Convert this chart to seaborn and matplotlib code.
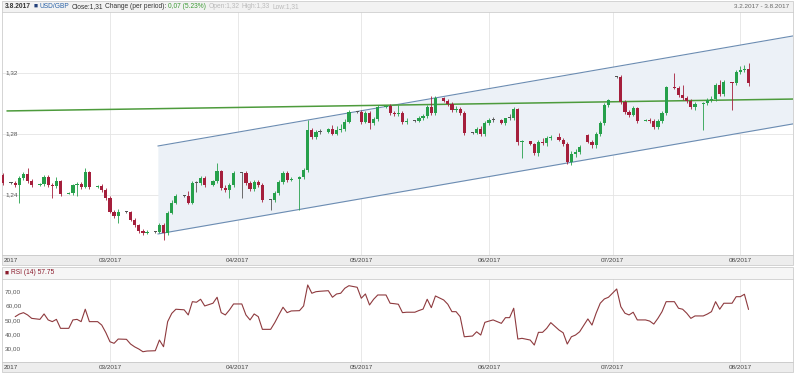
import matplotlib
matplotlib.use("Agg")
import matplotlib.pyplot as plt
import matplotlib.dates as mdates
import matplotlib.transforms as mtransforms
from matplotlib.patches import Rectangle
import numpy as np
import pandas as pd
import seaborn as sns

nan = float("nan")

# ---------------- DATA ----------------
# one candle per calendar day from 3.2.2017 to 3.8.2017, Saturdays have none
# rows: Fri 3.2, then weeks Sun..Fri
opens = [
    1.2531,
    1.2478, 1.2478, 1.2465, 1.2511, 1.2538, 1.2492,
    1.2465, 1.2472, 1.2518, 1.2465, 1.2459, 1.2492,
    1.2406, 1.2413, 1.2465, 1.2472, 1.2452, 1.2551,
    1.2452, 1.2459, 1.2433, 1.2380, 1.2288, 1.2262,
    1.2288, 1.2288, 1.2236, 1.2203, 1.2164, 1.2150,
    1.2157, 1.2157, 1.2203, 1.2150, 1.2282, 1.2347,
    1.2393, 1.2393, 1.2347, 1.2478, 1.2478, 1.2511,
    1.2465, 1.2492, 1.2557, 1.2446, 1.2433, 1.2465,
    1.2544, 1.2544, 1.2478, 1.2439, 1.2485, 1.2465,
    1.2367, 1.2367, 1.2413, 1.2485, 1.2544, 1.2498,
    1.2505, 1.2518, 1.2564, 1.2826, 1.2780, 1.2813,
    1.2813, 1.2833, 1.2800, 1.2826, 1.2833, 1.2879,
    1.2944, 1.2944, 1.2879, 1.2938, 1.2872, 1.2898,
    1.2977, 1.2984, 1.2938, 1.2931, 1.2938, 1.2879,
    1.2885, 1.2885, 1.2905, 1.2918, 1.2977, 1.2938,
    1.3036, 1.3016, 1.2997, 1.2957, 1.2964, 1.2938,
    1.2806, 1.2806, 1.2833, 1.2800, 1.2872, 1.2892,
    1.2892, 1.2872, 1.2905, 1.2905, 1.2964, 1.2747,
    1.2754, 1.2734, 1.2675, 1.2747, 1.2741, 1.2774,
    1.2780, 1.2760, 1.2734, 1.2616, 1.2669, 1.2682,
    1.2793, 1.2747, 1.2728, 1.2800, 1.2872, 1.2990,
    1.3174, 1.3174, 1.3010, 1.2944, 1.2924, 1.2970,
    1.2885, 1.2892, 1.2885, 1.2846, 1.2885, 1.2938,
    1.3108, 1.3102, 1.3056, 1.3036, 1.3016, 1.2977,
    1.2997, 1.3003, 1.3023, 1.3030, 1.3121, 1.3062,
    1.3141, 1.3134, 1.3207, 1.3220, 1.3226,
]

closes = [
    1.2478,
    1.2478, 1.2465, 1.2511, 1.2538, 1.2492, 1.2465,
    1.2472, 1.2518, 1.2465, 1.2459, 1.2492, 1.2406,
    1.2413, 1.2465, 1.2472, 1.2452, 1.2551, 1.2452,
    1.2459, 1.2433, 1.2380, 1.2288, 1.2262, 1.2288,
    1.2288, 1.2236, 1.2203, 1.2164, 1.2150, 1.2157,
    1.2157, 1.2203, 1.2150, 1.2282, 1.2347, 1.2393,
    1.2393, 1.2347, 1.2478, 1.2478, 1.2511, 1.2465,
    1.2492, 1.2557, 1.2446, 1.2433, 1.2465, 1.2544,
    1.2544, 1.2478, 1.2439, 1.2485, 1.2465, 1.2367,
    1.2367, 1.2413, 1.2485, 1.2544, 1.2498, 1.2505,
    1.2518, 1.2564, 1.2826, 1.2780, 1.2813, 1.2813,
    1.2833, 1.2800, 1.2826, 1.2833, 1.2879, 1.2944,
    1.2944, 1.2879, 1.2938, 1.2872, 1.2898, 1.2977,
    1.2984, 1.2938, 1.2931, 1.2938, 1.2879, 1.2885,
    1.2885, 1.2905, 1.2918, 1.2977, 1.2938, 1.3036,
    1.3016, 1.2997, 1.2957, 1.2964, 1.2938, 1.2806,
    1.2806, 1.2833, 1.2800, 1.2872, 1.2892, 1.2892,
    1.2872, 1.2905, 1.2905, 1.2964, 1.2747, 1.2754,
    1.2734, 1.2675, 1.2747, 1.2741, 1.2774, 1.2780,
    1.2760, 1.2734, 1.2616, 1.2669, 1.2682, 1.2715,
    1.2747, 1.2728, 1.2800, 1.2872, 1.2990, 1.3023,
    1.3174, 1.3010, 1.2944, 1.2924, 1.2970, 1.2885,
    1.2892, 1.2885, 1.2846, 1.2885, 1.2938, 1.3108,
    1.3102, 1.3056, 1.3036, 1.3016, 1.2977, 1.2997,
    1.3003, 1.3023, 1.3030, 1.3121, 1.3062, 1.3141,
    1.3134, 1.3207, 1.3220, 1.3226, 1.3134,
]

highs = [
    1.2544,
    1.2485, 1.2492, 1.2524, 1.2551, 1.2577, 1.2505,
    1.2478, 1.2531, 1.2531, 1.2478, 1.2518, 1.2498,
    1.2419, 1.2472, 1.2485, 1.2485, 1.2577, 1.2557,
    1.2465, 1.2472, 1.2446, 1.2393, 1.2301, 1.2308,
    1.2295, 1.2295, 1.2249, 1.2210, 1.2177, 1.2170,
    1.2164, 1.2216, 1.2216, 1.2295, 1.2367, 1.2406,
    1.2400, 1.2426, 1.2492, 1.2492, 1.2524, 1.2524,
    1.2498, 1.2610, 1.2564, 1.2465, 1.2478, 1.2557,
    1.2551, 1.2557, 1.2492, 1.2498, 1.2498, 1.2478,
    1.2374, 1.2426, 1.2498, 1.2557, 1.2557, 1.2518,
    1.2524, 1.2577, 1.2892, 1.2839, 1.2826, 1.2833,
    1.2839, 1.2859, 1.2852, 1.2865, 1.2898, 1.2957,
    1.2951, 1.2957, 1.2951, 1.2951, 1.2911, 1.2990,
    1.2990, 1.2997, 1.2951, 1.2990, 1.2951, 1.2905,
    1.2892, 1.2918, 1.2931, 1.2990, 1.3049, 1.3049,
    1.3043, 1.3030, 1.3010, 1.2984, 1.2977, 1.2951,
    1.2813, 1.2846, 1.2852, 1.2885, 1.2905, 1.2911,
    1.2898, 1.2905, 1.2931, 1.2977, 1.2970, 1.2760,
    1.2754, 1.2741, 1.2760, 1.2774, 1.2787, 1.2793,
    1.2806, 1.2774, 1.2747, 1.2688, 1.2702, 1.2728,
    1.2800, 1.2760, 1.2813, 1.2885, 1.3003, 1.3030,
    1.3180, 1.3187, 1.3023, 1.2957, 1.2984, 1.2977,
    1.2898, 1.2905, 1.2898, 1.2898, 1.2951, 1.3115,
    1.3200, 1.3115, 1.3121, 1.3049, 1.3030, 1.3010,
    1.3010, 1.3036, 1.3049, 1.3134, 1.3154, 1.3154,
    1.3141, 1.3220, 1.3246, 1.3252, 1.3266,
]

lows = [
    1.2465,
    1.2472, 1.2452, 1.2347, 1.2498, 1.2478, 1.2452,
    1.2459, 1.2459, 1.2452, 1.2380, 1.2446, 1.2393,
    1.2406, 1.2400, 1.2393, 1.2439, 1.2446, 1.2439,
    1.2446, 1.2419, 1.2367, 1.2282, 1.2249, 1.2216,
    1.2282, 1.2229, 1.2190, 1.2150, 1.2137, 1.2144,
    1.2150, 1.2150, 1.2104, 1.2137, 1.2275, 1.2341,
    1.2387, 1.2341, 1.2341, 1.2419, 1.2465, 1.2452,
    1.2459, 1.2478, 1.2433, 1.2419, 1.2380, 1.2452,
    1.2380, 1.2465, 1.2426, 1.2426, 1.2452, 1.2354,
    1.2301, 1.2354, 1.2400, 1.2472, 1.2485, 1.2492,
    1.2301, 1.2505, 1.2551, 1.2767, 1.2767, 1.2800,
    1.2806, 1.2793, 1.2793, 1.2813, 1.2820, 1.2872,
    1.2938, 1.2865, 1.2872, 1.2833, 1.2859, 1.2885,
    1.2970, 1.2924, 1.2918, 1.2918, 1.2865, 1.2865,
    1.2879, 1.2879, 1.2892, 1.2905, 1.2924, 1.2924,
    1.3010, 1.2984, 1.2944, 1.2944, 1.2924, 1.2793,
    1.2800, 1.2800, 1.2787, 1.2787, 1.2859, 1.2879,
    1.2865, 1.2859, 1.2892, 1.2892, 1.2728, 1.2642,
    1.2728, 1.2662, 1.2656, 1.2728, 1.2721, 1.2760,
    1.2754, 1.2721, 1.2603, 1.2597, 1.2649, 1.2669,
    1.2741, 1.2708, 1.2708, 1.2787, 1.2859, 1.2977,
    1.3167, 1.2997, 1.2931, 1.2911, 1.2918, 1.2872,
    1.2885, 1.2872, 1.2833, 1.2833, 1.2872, 1.2924,
    1.3095, 1.3043, 1.3023, 1.3003, 1.2964, 1.2957,
    1.2826, 1.2990, 1.3010, 1.3016, 1.3049, 1.3049,
    1.2957, 1.3121, 1.3193, 1.3207, 1.3115,
]

rsi = [
    nan,
    nan, 52.7, 54.5, 55.5, 53.9, 51.5,
    50.8, 54.6, 50.4, 49.2, 50.8, 44.5,
    44.5, 50.4, 50.8, 49.2, 57.9, 49.2,
    49.2, 46.8, 41.5, 35.1, 34.0, 37.0,
    36.8, 33.5, 31.5, 30.0, 28.1, 28.6,
    28.8, 36.3, 31.6, 49.2, 55.0, 57.9,
    57.5, 53.9, 63.2, 62.8, 64.9, 60.2,
    62.1, 66.3, 55.5, 53.9, 57.4, 61.6,
    61.6, 53.9, 50.4, 54.6, 52.7, 43.8,
    43.8, 48.5, 54.0, 59.3, 55.5, 56.7,
    56.9, 60.2, 74.9, 69.1, 70.2, 70.5,
    70.9, 66.3, 68.6, 69.1, 72.6, 74.4,
    73.3, 65.6, 68.6, 60.9, 64.9, 67.9,
    67.9, 62.1, 61.8, 61.4, 55.5, 55.8,
    55.8, 57.0, 58.0, 64.9, 59.0, 67.2,
    64.4, 61.4, 56.2, 56.2, 52.7, 38.6,
    39.1, 42.1, 39.8, 48.7, 49.6, 50.4,
    48.0, 52.0, 52.0, 58.6, 37.0, 37.5,
    36.3, 32.8, 41.7, 41.7, 44.5, 48.5,
    43.3, 41.4, 33.5, 38.6, 39.8, 42.1,
    51.1, 46.8, 55.1, 62.1, 65.1, 66.3,
    72.1, 59.7, 55.1, 53.9, 55.8, 50.4,
    50.4, 49.6, 47.5, 51.5, 56.2, 63.2,
    63.2, 58.6, 57.9, 55.1, 51.5, 53.2,
    53.2, 54.5, 56.2, 63.2, 57.9, 62.1,
    62.1, 66.7, 66.7, 68.4, 57.75,
]

month_ticks = ["2017-03-01", "2017-04-01", "2017-05-01", "2017-06-01", "2017-07-01", "2017-08-01"]
month_labels = ["03/2017", "04/2017", "05/2017", "06/2017", "07/2017", "08/2017"]
price_ticks = [1.24, 1.28, 1.32]
price_labels = ["1,24", "1,28", "1,32"]
rsi_ticks = [30, 40, 50, 60, 70]
rsi_labels = ["30,00", "40,00", "50,00", "60,00", "70,00"]

# drawn trend channel and horizontal trend line (value ends)
channel_x = ["2017-03-12 15:00", "2017-08-13 19:00"]
channel_upper = [1.2721, 1.3443]
channel_lower = [1.2144, 1.2866]
trend_x = ["2017-02-04 00:00", "2017-08-13 19:00"]
trend_y = [1.2951, 1.3029]

X_RANGE = ["2017-02-02 19:00", "2017-08-13 19:00"]

UP = "#26a04b"
DOWN = "#a51f3c"
FLAT = "#555555"
GRID = "#e4e4e4"
EDGE = "#cdcdcd"

W, H = 800, 374


# ---------------- HELPERS ----------------

def frac(x0, y0, x1, y1):
    return [x0 / W, 1 - y1 / H, (x1 - x0) / W, (y1 - y0) / H]


def strip(fig, x0, y0, x1, y1, face):
    # drawn under the axes (zorder -1) so texts placed later stay on top
    fig.patches.append(Rectangle((x0 / W, 1 - y1 / H), (x1 - x0) / W, (y1 - y0) / H,
                                 transform=fig.transFigure, facecolor=face,
                                 edgecolor=EDGE, linewidth=0.6, zorder=-1))


def chain_text(fig, parts, x_px, y_px, size=4.8):
    renderer = fig.canvas.get_renderer()
    x = x_px / W
    for txt, color, weight in parts:
        t = fig.text(x, 1 - y_px / H, txt, color=color, fontsize=size,
                     fontweight=weight, ha="left", va="center", zorder=5)
        x = t.get_window_extent(renderer).x1 / W + 2.2 / W


def style_axes(ax, xlim):
    ax.set_xlim(xlim)
    ax.set_xticks([])
    ax.set_yticks([])
    ax.set_xlabel("")
    ax.set_ylabel("")
    for s in ax.spines.values():
        s.set_color(EDGE)
        s.set_linewidth(0.6)


# ---------------- FIGURE ----------------

sns.set_theme(style="white")
plt.rcParams["font.family"] = ["Liberation Sans", "DejaVu Sans"]

dates = pd.date_range("2017-02-03", "2017-08-03", freq="D")
dates = dates[dates.dayofweek != 5]

df = pd.DataFrame({"date": dates, "open": opens, "close": closes,
                   "high": highs, "low": lows, "rsi": rsi})

xlim = mdates.date2num(pd.to_datetime(X_RANGE))

fig = plt.figure(figsize=(W / 100, H / 100), dpi=100)
fig.patch.set_facecolor("white")

# strips around the two panels
strip(fig, 2, 1, 793, 12, "#f2f2f2")
strip(fig, 2, 255, 793, 265, "#ededed")
strip(fig, 2, 267, 793, 279, "#f6f6f6")
strip(fig, 2, 362, 793, 372, "#ededed")

# ---------------- PRICE PANEL ----------------
ax = fig.add_axes(frac(2, 12, 793, 255))

for m in month_ticks:
    ax.axvline(pd.Timestamp(m), color=GRID, lw=0.6, zorder=0)
for p in price_ticks:
    ax.axhline(p, color=GRID, lw=0.6, zorder=0)

cx = pd.to_datetime(channel_x)
ax.fill_between(cx, channel_lower, channel_upper, color="#ecf1f7", zorder=0.5, lw=0)
ax.plot(cx, channel_upper, color="#6b8cb2", lw=0.8, zorder=1)
ax.plot(cx, channel_lower, color="#6b8cb2", lw=0.8, zorder=1)

sns.lineplot(x=pd.to_datetime(trend_x), y=trend_y, ax=ax, color="#4d9b3c", lw=1.1, zorder=2)

o = df["open"].to_numpy()
c = df["close"].to_numpy()
colors = np.where(c > o, UP, np.where(c < o, DOWN, FLAT))
body_low = np.minimum(o, c)
body_h = np.maximum(np.abs(c - o), 0.0006)

ax.vlines(df["date"], df["low"], df["high"], colors=colors, lw=0.6, zorder=3)
ax.bar(df["date"], body_h, bottom=body_low, width=0.78, color=colors, lw=0, zorder=4)

style_axes(ax, xlim)
ax.set_ylim(1.2006, 1.3600)

ytr = mtransforms.blended_transform_factory(ax.transAxes, ax.transData)
for p, lab in zip(price_ticks, price_labels):
    ax.text(0.004, p, lab, transform=ytr, fontsize=4.6, color="#555555",
            ha="left", va="center", zorder=5)

# ---------------- RSI PANEL ----------------
ax2 = fig.add_axes(frac(2, 279, 793, 362))
for m in month_ticks:
    ax2.axvline(pd.Timestamp(m), color=GRID, lw=0.6, zorder=0)

sns.lineplot(data=df, x="date", y="rsi", ax=ax2, color="#8e3a3e", lw=0.8)
style_axes(ax2, xlim)
ax2.set_ylim(20.9, 79.1)

ytr2 = mtransforms.blended_transform_factory(ax2.transAxes, ax2.transData)
for v, lab in zip(rsi_ticks, rsi_labels):
    ax2.text(0.004, v, lab, transform=ytr2, fontsize=4.6, color="#555555",
             ha="left", va="center")

# ---------------- X LABEL STRIPS ----------------
span = xlim[1] - xlim[0]
for y_px in (260, 367.5):
    fig.text(4 / W, 1 - y_px / H, "2017", fontsize=4.6, color="#444444",
             ha="left", va="center", zorder=5)
    for m, lab in zip(month_ticks, month_labels):
        pos = (mdates.date2num(pd.Timestamp(m)) - xlim[0]) / span
        fig.text((2 + pos * 791) / W, 1 - y_px / H, lab, fontsize=4.6,
                 color="#444444", ha="center", va="center", zorder=5)

# ---------------- HEADERS ----------------
chain_text(fig, [
    ("3.8.2017", "#333333", "bold"),
    ("\u25a0", "#23407a", "normal"),
    ("USD/GBP", "#2b63a8", "normal"),
    ("Close:1,31", "#333333", "normal"),
    ("Change (per period):", "#333333", "normal"),
    ("0,07 (5.23%)", "#3d9b35", "normal"),
    ("Open:1,32", "#bbbbbb", "normal"),
    ("High:1,33", "#bbbbbb", "normal"),
    ("Low:1,31", "#bbbbbb", "normal"),
], 5, 6.5)

fig.text(789 / W, 1 - 6.5 / H, "3.2.2017 - 3.8.2017", fontsize=4.6,
         color="#666666", ha="right", va="center", zorder=5)

chain_text(fig, [
    ("\u25a0", "#8b1a2b", "normal"),
    ("RSI (14) 57.75", "#8b1a2b", "normal"),
], 5, 273)

fig.savefig("out.png", dpi=100)
plt.close(fig)
